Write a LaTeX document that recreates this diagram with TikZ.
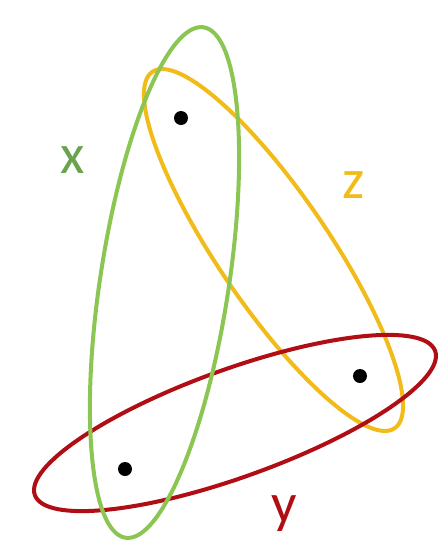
\documentclass[tikz,border=0pt]{standalone}
\usepackage{fontspec}
\setmainfont{Carlito}

\definecolor{groen}{RGB}{139,198,82}
\definecolor{donkergroen}{RGB}{106,163,78}
\definecolor{geel}{RGB}{241,188,25}
\definecolor{rood}{RGB}{176,14,20}

\begin{document}
\begin{tikzpicture}[x=0.035cm,y=-0.035cm,
  punt/.style={circle,fill=black,inner sep=0pt,minimum size=0.49cm},
  letter/.style={inner sep=0pt,anchor=base,font=\fontsize{56}{60}\selectfont},
  rand/.style={line width=4pt}]

\useasboundingbox (0,0) rectangle (440,543);

% de drie ellipsen
\draw[rand,geel] (273.5,250) ellipse [x radius=215.5,y radius=55.5,rotate=124.2];
\draw[rand,rood] (235,423) ellipse [x radius=212.7,y radius=53.9,rotate=19.8];
\draw[rand,groen] (164.5,282.5) ellipse [x radius=258.2,y radius=64.3,rotate=81.3];

% de punten
\node[punt] (p1) at (181,118){};
\node[punt] (p2) at (360,376){};
\node[punt] (p3) at (125,469){};

% de letters
\node[letter,text=donkergroen] (lx) at (73,173){x};
\node[letter,text=geel] (lz) at (354,198){z};
\node[letter,text=rood] (ly) at (284,522){y};

\end{tikzpicture}
\end{document}
